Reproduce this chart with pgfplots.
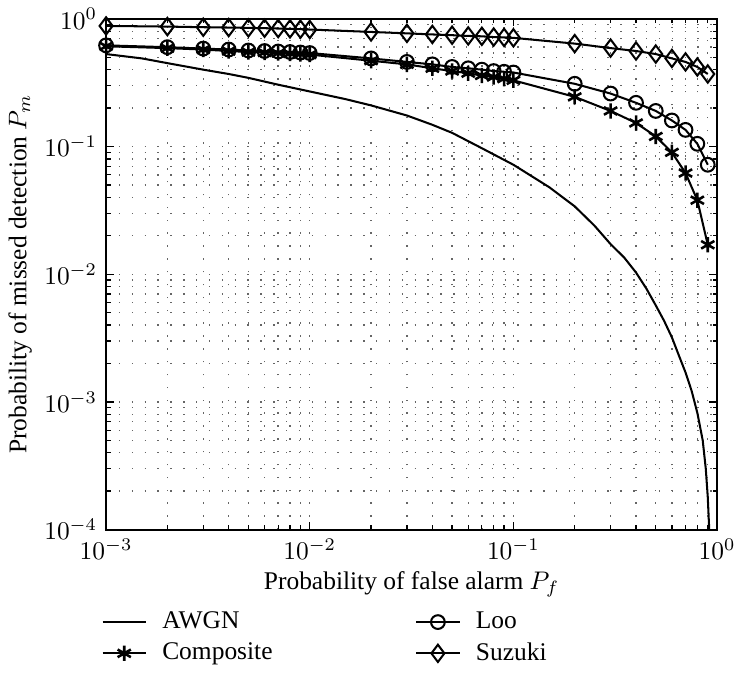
\documentclass[border=0pt]{standalone}
\usepackage{fontspec}
\setmainfont{Liberation Serif}
\usepackage{pgfplots}
\pgfplotsset{compat=1.18}
\begin{document}
\begin{tikzpicture}
\begin{axis}[
  scale only axis,
  width=240pt, height=200.6pt,
  xmode=log, ymode=log,
  xmin=1e-3, xmax=1, ymin=1e-4, ymax=1,
  xtick={1e-3,1e-2,1e-1,1}, ytick={1e-4,1e-3,1e-2,1e-1,1},
  minor xtick={2e-3,3e-3,4e-3,5e-3,6e-3,7e-3,8e-3,9e-3,2e-2,3e-2,4e-2,5e-2,6e-2,7e-2,8e-2,9e-2,0.2,0.3,0.4,0.5,0.6,0.7,0.8,0.9},
  minor ytick={2e-4,3e-4,4e-4,5e-4,6e-4,7e-4,8e-4,9e-4,2e-3,3e-3,4e-3,5e-3,6e-3,7e-3,8e-3,9e-3,2e-2,3e-2,4e-2,5e-2,6e-2,7e-2,8e-2,9e-2,0.2,0.3,0.4,0.5,0.6,0.7,0.8,0.9},
  tick align=inside,
  major tick length=3pt, minor tick length=1.8pt,
  axis line style={line width=0.8pt},
  every tick/.style={black, line width=0.5pt},
  grid=both,
  major grid style={black!60, line width=0.55pt, dash pattern=on 0.55pt off 4.5pt},
  minor grid style={black!60, line width=0.55pt, dash pattern=on 0.55pt off 4.5pt},
  xlabel={Probability of false alarm $P_f$},
  ylabel={Probability of missed detection $P_m$},
  label style={font=\fontsize{10}{12}\selectfont},
  tick label style={font=\fontsize{10}{12}\selectfont},
  xlabel style={yshift=2pt},
  ylabel style={yshift=-2pt},
  legend columns=2,
  legend cell align=left,
  legend style={draw=none, fill=none, at={(0,-0.14)}, anchor=north west, xshift=-5pt,
    font=\fontsize{10}{12}\selectfont, row sep=0pt,
    /tikz/every odd column/.append style={column sep=4pt},
    /tikz/every even column/.append style={column sep=54pt}},
]
\addplot[black, line width=0.8pt] coordinates {
(0.001,0.53) (0.0015,0.49) (0.002,0.45) (0.003,0.40) (0.004,0.37) (0.005,0.345)
(0.007,0.305) (0.01,0.27) (0.015,0.235) (0.02,0.21) (0.03,0.175) (0.04,0.148)
(0.05,0.128) (0.07,0.097) (0.1,0.072) (0.15,0.048) (0.2,0.034) (0.25,0.024)
(0.3,0.0172) (0.35,0.0135) (0.4,0.0103) (0.45,0.0077) (0.5,0.0057) (0.55,0.0043)
(0.6,0.0032) (0.65,0.0023) (0.7,0.0017) (0.75,0.00122) (0.8,0.00082) (0.85,0.00050)
(0.88,0.00030) (0.9,0.00018) (0.915,0.0001)
};
\addlegendentry{AWGN}
\addplot[black, line width=0.8pt, mark=o, mark size=2.7pt, mark options={solid, line width=0.8pt}] coordinates {
(0.001,0.62) (0.002,0.60) (0.003,0.585) (0.004,0.575) (0.005,0.565) (0.006,0.56)
(0.007,0.555) (0.008,0.55) (0.009,0.545) (0.01,0.54) (0.02,0.49) (0.03,0.46)
(0.04,0.44) (0.05,0.42) (0.06,0.41) (0.07,0.40) (0.08,0.39) (0.09,0.385) (0.1,0.38)
(0.2,0.31) (0.3,0.26) (0.4,0.22) (0.5,0.19) (0.6,0.16) (0.7,0.135) (0.8,0.105) (0.9,0.072)
};
\addlegendentry{Loo}
\addplot[black, line width=0.8pt, mark=asterisk, mark size=3pt, mark options={solid, line width=1pt}] coordinates {
(0.001,0.61) (0.002,0.59) (0.003,0.575) (0.004,0.56) (0.005,0.55) (0.006,0.545)
(0.007,0.54) (0.008,0.535) (0.009,0.53) (0.01,0.525) (0.02,0.47) (0.03,0.44)
(0.04,0.41) (0.05,0.39) (0.06,0.375) (0.07,0.36) (0.08,0.35) (0.09,0.34) (0.1,0.33)
(0.2,0.245) (0.3,0.19) (0.4,0.153) (0.5,0.120) (0.6,0.090) (0.7,0.062) (0.8,0.038) (0.9,0.017)
};
\addlegendentry{Composite}
\addplot[black, line width=0.8pt, mark=diamond, mark size=3.4pt, mark options={solid, line width=0.8pt}] coordinates {
(0.001,0.88) (0.002,0.87) (0.003,0.86) (0.004,0.855) (0.005,0.85) (0.006,0.845)
(0.007,0.84) (0.008,0.835) (0.009,0.83) (0.01,0.825) (0.02,0.79) (0.03,0.77)
(0.04,0.755) (0.05,0.745) (0.06,0.735) (0.07,0.73) (0.08,0.72) (0.09,0.715) (0.1,0.71)
(0.2,0.64) (0.3,0.59) (0.4,0.56) (0.5,0.53) (0.6,0.49) (0.7,0.46) (0.8,0.42) (0.9,0.37)
};
\addlegendentry{Suzuki}
\end{axis}
\end{tikzpicture}
\end{document}
